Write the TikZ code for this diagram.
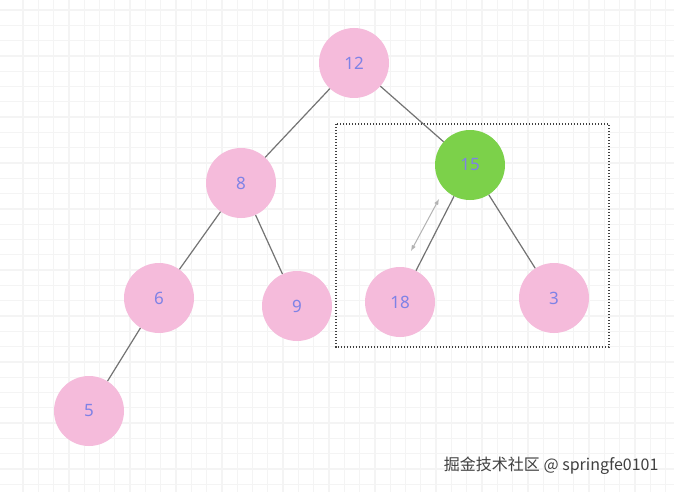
\documentclass[tikz,border=0pt]{standalone}
\usepackage{fontspec}
\newfontfamily\cjk{Noto Sans CJK SC}
\setmainfont{Noto Sans}
\definecolor{pk}{HTML}{F5BBDB}
\definecolor{gr}{HTML}{7CD14A}
\definecolor{tx}{HTML}{7E82E6}
\begin{document}
\begin{tikzpicture}[x=1pt,y=-1pt,
  nd/.style={circle,minimum size=70pt,inner sep=0pt,fill=pk,text=tx,font=\fontsize{17}{19}\selectfont},
  edge/.style={draw=gray!90!black,line width=1.2pt}]
\useasboundingbox (0,0) rectangle (674,492);
\fill[white] (0,0) rectangle (674,492);
\foreach \i in {0,...,44} {\draw[gray!9,line width=1.3pt] ({23+15.3*\i},0) -- ({23+15.3*\i},492);}
\foreach \i in {0,...,32} {\draw[gray!9,line width=1.3pt] (0,{10+15.3*\i}) -- (674,{10+15.3*\i});}
\draw[black!75,dash pattern=on 1.3pt off 1.7pt,line width=1.3pt] (336,124) rectangle (609,347);
\node[nd] (n12) at (354,63) {12};
\node[nd] (n8) at (241,183) {8};
\node[nd,fill=gr] (n15) at (470,165) {15};
\node[nd] (n6) at (159,298) {6};
\node[nd] (n9) at (297,306) {9};
\node[nd] (n18) at (400,302) {18};
\node[nd] (n3) at (554,298) {3};
\node[nd] (n5) at (89,411) {5};
\draw[edge] (n12) -- (n8);
\draw[edge] (n12) -- (n15);
\draw[edge] (n8) -- (n6);
\draw[edge] (n8) -- (n9);
\draw[edge] (n15) -- (n18);
\draw[edge] (n15) -- (n3);
\draw[edge] (n6) -- (n5);
\coordinate (a1) at (411,251);
\coordinate (a2) at (439,199);
\draw[gray!60,line width=1pt,<->,>=latex] (a1) -- (a2);
\node[anchor=east,font=\cjk\fontsize{16}{18}\selectfont,text=black!75] (wm) at (662,466) {掘金技术社区 @ springfe0101};
\end{tikzpicture}
\end{document}
